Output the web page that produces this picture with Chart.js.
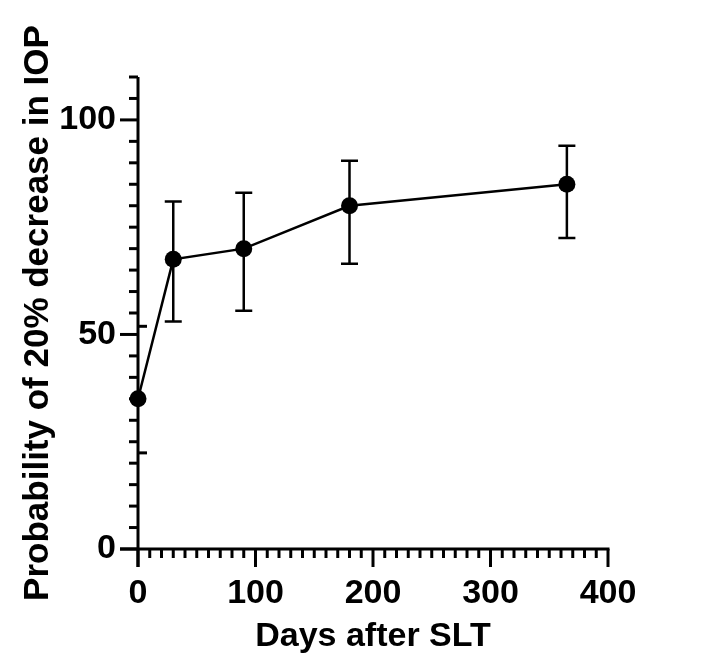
<!DOCTYPE html>
<html>
<head>
<meta charset="utf-8">
<script src="https://cdn.jsdelivr.net/npm/chart.js@4.4.1/dist/chart.umd.min.js"></script>
<style>
  html, body { margin: 0; padding: 0; background: #ffffff; }
  #wrap { width: 708px; height: 668px; }
</style>
</head>
<body>
<div id="wrap"><canvas id="c" width="708" height="668"></canvas></div>
<script>
// ---- data ----
const days = [0, 30, 90, 180, 365];
const probability = [35, 67.5, 70, 80, 85];
const upperCI = [35, 81, 83, 90.5, 94];
const lowerCI = [35, 53, 55.5, 66.5, 72.5];
const xTickLabels = [0, 100, 200, 300, 400];
const yTickLabels = [0, 50, 100];
const yOddTicks = [22.4, 51.9];

const FONT = "'Liberation Sans', Arial, Helvetica, sans-serif";

const axesPlugin = {
  id: 'axesPlugin',
  afterDatasetsDraw(chart) {
    const ctx = chart.ctx;
    const xs = chart.scales.x, ys = chart.scales.y;
    ctx.save();
    ctx.strokeStyle = '#000';
    ctx.lineCap = 'butt';
    // error bars
    ctx.lineWidth = 2.5;
    days.forEach((d, i) => {
      if (upperCI[i] === lowerCI[i]) return;
      const px = xs.getPixelForValue(d);
      const pt = ys.getPixelForValue(upperCI[i]);
      const pb = ys.getPixelForValue(lowerCI[i]);
      ctx.beginPath();
      ctx.moveTo(px, pt); ctx.lineTo(px, pb);
      ctx.moveTo(px - 8.5, pt); ctx.lineTo(px + 8.5, pt);
      ctx.moveTo(px - 8.5, pb); ctx.lineTo(px + 8.5, pb);
      ctx.stroke();
    });
    // axes lines
    ctx.lineWidth = 3;
    const x0 = xs.getPixelForValue(xs.min);
    const x1 = xs.getPixelForValue(xs.max);
    const y0 = ys.getPixelForValue(ys.min);
    const y1 = ys.getPixelForValue(ys.max);
    ctx.beginPath();
    ctx.moveTo(x0, y1); ctx.lineTo(x0, y0 + 18);
    ctx.moveTo(x0 - 18, y0); ctx.lineTo(x1 + 1.5, y0);
    ctx.stroke();
    // y ticks
    ctx.lineWidth = 3;
    for (let v = ys.min; v <= ys.max + 0.001; v += 5) {
      const p = ys.getPixelForValue(v);
      const len = yTickLabels.includes(v) ? 18 : 9;
      ctx.beginPath(); ctx.moveTo(x0, p); ctx.lineTo(x0 - len, p); ctx.stroke();
    }
    yOddTicks.forEach(v => {
      const p = ys.getPixelForValue(v);
      ctx.beginPath(); ctx.moveTo(x0, p); ctx.lineTo(x0 + 9, p); ctx.stroke();
    });
    // x ticks
    for (let v = xs.min; v <= xs.max + 0.001; v += 10) {
      const p = xs.getPixelForValue(v);
      const len = xTickLabels.includes(v) ? 18 : 9;
      ctx.beginPath(); ctx.moveTo(p, y0); ctx.lineTo(p, y0 + len); ctx.stroke();
    }
    ctx.restore();
  }
};

new Chart(document.getElementById('c'), {
  type: 'line',
  data: {
    datasets: [{
      data: days.map((d, i) => ({ x: d, y: probability[i] })),
      borderColor: '#000',
      backgroundColor: '#000',
      borderWidth: 2.5,
      pointRadius: 8.5,
      pointBackgroundColor: '#000',
      pointBorderWidth: 0,
      tension: 0,
      clip: false
    }]
  },
  options: {
    responsive: false,
    animation: false,
    events: [],
    layout: { padding: { top: 77, right: 100, bottom: 0, left: 0 } },
    plugins: { legend: { display: false }, tooltip: { enabled: false } },
    scales: {
      x: {
        type: 'linear',
        min: 0, max: 400,
        afterBuildTicks: s => { s.ticks = xTickLabels.map(v => ({ value: v })); },
        afterFit: s => { s.height = 119; },
        grid: { display: false, drawTicks: false },
        border: { display: false },
        ticks: { color: '#000', padding: 24, font: { family: FONT, size: 34, weight: 'bold' }, maxRotation: 0 },
        title: { display: true, text: 'Days after SLT', color: '#000', padding: { top: 0, bottom: 11 }, font: { family: FONT, size: 34, weight: 'bold' } }
      },
      y: {
        type: 'linear',
        min: 0, max: 110,
        afterBuildTicks: s => { s.ticks = yTickLabels.map(v => ({ value: v })); },
        afterFit: s => { s.width = 138; },
        grid: { display: false, drawTicks: false },
        border: { display: false },
        ticks: { color: '#000', padding: 22, font: { family: FONT, size: 34, weight: 'bold' } },
        title: { display: true, text: 'Probability of 20% decrease in IOP', color: '#000', padding: { top: 17, bottom: 0 }, font: { family: FONT, size: 35, weight: 'bold' } }
      }
    }
  },
  plugins: [axesPlugin]
});
</script>
</body>
</html>
